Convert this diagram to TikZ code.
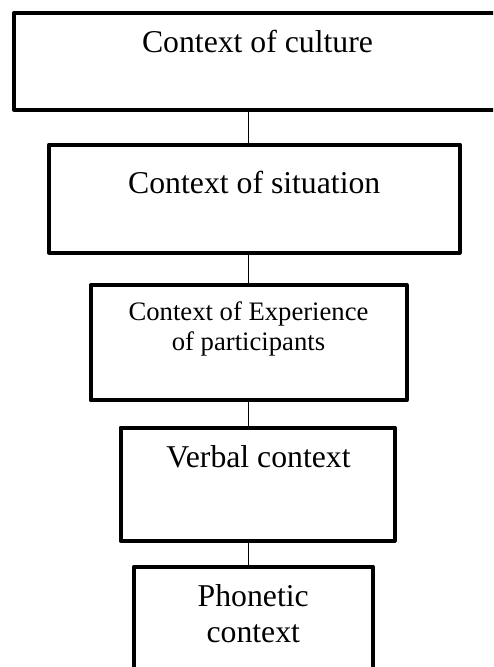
\documentclass[tikz,border=0pt]{standalone}
\usepackage{fontspec}
\setmainfont{Liberation Serif}
\usetikzlibrary{calc}

\begin{document}
\begin{tikzpicture}[x=0.75pt, y=-0.75pt,
		level/.style={draw, line width=3pt, line join=round, rectangle, inner sep=0pt},
		caption/.style={anchor=base, align=center, inner sep=0pt, font=\fontsize{23.8}{27}\selectfont},
		link/.style={line width=1.2pt}]
		\useasboundingbox (0,0) rectangle (493,667);
		\clip (0,0) rectangle (493,667);

		\coordinate (spine) at (248.5,0);

		\node [level, minimum width=365.25pt, minimum height=72.75pt] (culture) at (257.5,61.5) {};
		\node [level, minimum width=307.9pt, minimum height=81pt] (situation) at (254.25,198.5) {};
		\node [level, minimum width=237pt, minimum height=86.6pt] (experience) at (248.5,342.75) {};
		\node [level, minimum width=205.5pt, minimum height=84.75pt] (verbal) at (257.5,484) {};
		\node [level, minimum width=178.9pt, minimum height=92.6pt] (phonetic) at (253.25,628.25) {};

		% base of a two-line caption sits on its last line
		\node [caption] (culture-text) at ($(culture.north)+(0,42)$) {Context of culture};
		\node [caption] (situation-text) at ($(situation.north)+(0,50.5)$) {Context of situation};
		\node [caption, font=\fontsize{20}{22.5}\selectfont] (experience-text) at ($(experience.north)+(0,67)$) {Context of Experience\\of participants};
		\node [caption] (verbal-text) at ($(verbal.north)+(1,41.5)$) {Verbal context};
		\node [caption] (phonetic-text) at ($(phonetic.north)+(0,77.5)$) {Phonetic\\context};

		\foreach \upper/\lower in {culture/situation, situation/experience, experience/verbal, verbal/phonetic}
			\draw [link] (\upper.south -| spine) -- (\lower.north -| spine);
	\end{tikzpicture}
\end{document}
